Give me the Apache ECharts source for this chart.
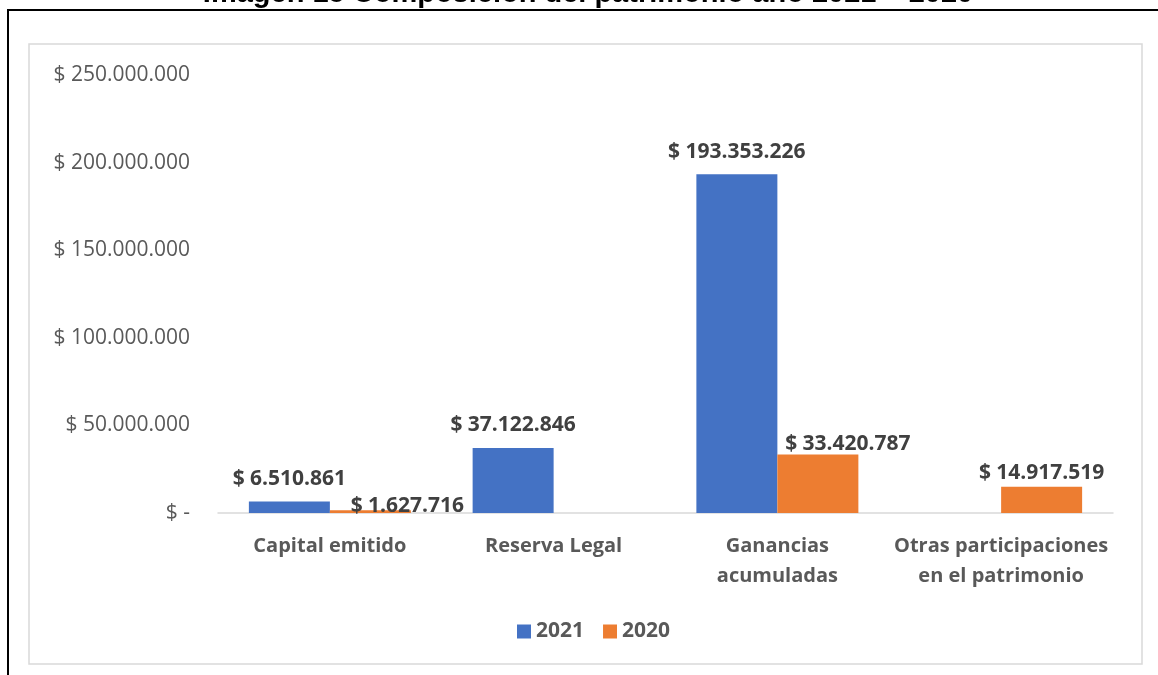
<!DOCTYPE html>
<html>
<head>
<meta charset="utf-8">
<script src="https://cdn.jsdelivr.net/npm/echarts@6/dist/echarts.min.js"></script>
<style>
html,body{margin:0;padding:0;background:#fff;}
#c{width:1158px;height:675px;}
</style>
</head>
<body>
<div id="c"></div>
<script>
const categories = ['Capital emitido', 'Reserva Legal', 'Ganancias\nacumuladas', 'Otras participaciones\nen el patrimonio'];
const values2021 = [6510861, 37122846, 193353226, null];
const values2020 = [1627716, null, 33420787, 14917519];
const seriesNames = ['2021', '2020'];
const titleText = 'Imagen 15 Composición del patrimonio año 2021 – 2020';
// label nudges (presentation only), [dx, dy] per category
const labelShift2021 = [[0, 0], [0, 0], [0, 0], [0, 0]];
const labelShift2020 = [[37, 18], [0, 0], [30, 12], [0, 9]];

const FONT = 'Open Sans';
function fmt(v) {
  return String(Math.round(v)).replace(/\B(?=(\d{3})+(?!\d))/g, '.');
}
function withShift(vals, shifts) {
  return vals.map((v, i) => v == null ? null : { value: v, label: { offset: shifts[i] } });
}
const labelStyle = {
  show: true, position: 'top', distance: 12,
  fontFamily: FONT, fontWeight: 'bold', fontSize: 21, color: '#404040',
  formatter: p => '$ ' + fmt(p.value)
};

const chart = echarts.init(document.getElementById('c'));
chart.setOption({
  animation: false,
  graphic: [
    { type: 'rect', shape: { x: 29, y: 44, width: 1113, height: 620 }, style: { fill: 'none', stroke: '#d9d9d9', lineWidth: 1.5 } },
    { type: 'line', shape: { x1: 7, y1: 10, x2: 1158, y2: 10 }, style: { stroke: '#000', lineWidth: 2 } },
    { type: 'line', shape: { x1: 8, y1: 10, x2: 8, y2: 675 }, style: { stroke: '#000', lineWidth: 2 } },
    { type: 'text', x: 588, y: 8, style: { text: titleText, font: 'bold 29px "Liberation Sans", Arial', fill: '#000', textAlign: 'center', textVerticalAlign: 'bottom' } }
  ],
  grid: { left: 218, right: 45, top: 75, bottom: 162 },
  legend: {
    data: seriesNames,
    top: 616,
    left: 512,
    itemWidth: 14,
    itemHeight: 14,
    itemGap: 19,
    icon: 'rect',
    textStyle: { fontFamily: FONT, fontWeight: 'bold', fontSize: 21, color: '#595959' }
  },
  xAxis: {
    type: 'category',
    data: categories,
    axisTick: { show: false },
    axisLine: { lineStyle: { color: '#d9d9d9', width: 1.5 } },
    axisLabel: { fontFamily: FONT, fontWeight: 'bold', fontSize: 20, color: '#595959', lineHeight: 30, margin: 18, interval: 0 }
  },
  yAxis: {
    type: 'value',
    min: 0,
    max: 250000000,
    interval: 50000000,
    splitLine: { show: false },
    axisLine: { show: false },
    axisTick: { show: false },
    axisLabel: {
      fontFamily: FONT, fontSize: 21, color: '#595959', margin: 28,
      formatter: v => v === 0 ? '$ -' : '$ ' + fmt(v)
    }
  },
  series: [
    {
      name: seriesNames[0], type: 'bar', data: withShift(values2021, labelShift2021), barGap: '0%', barCategoryGap: '27.6%',
      itemStyle: { color: '#4472C4' },
      label: labelStyle
    },
    {
      name: seriesNames[1], type: 'bar', data: withShift(values2020, labelShift2020),
      itemStyle: { color: '#ED7D31' },
      label: labelStyle
    }
  ]
});
</script>
</body>
</html>
